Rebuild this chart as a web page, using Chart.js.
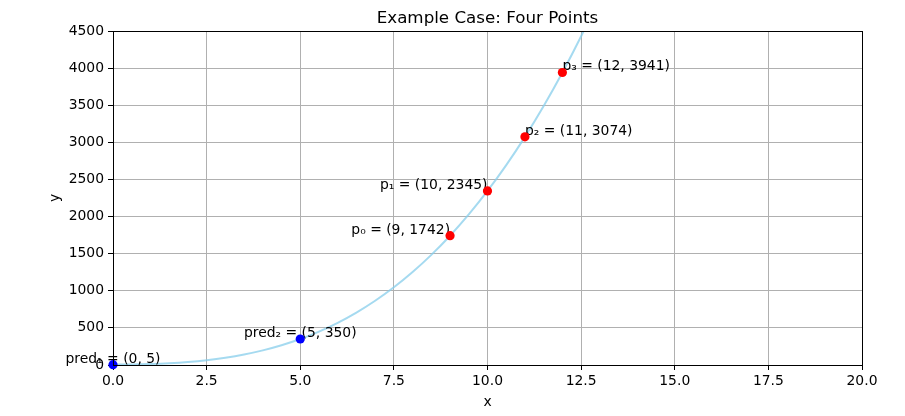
<!DOCTYPE html>
<html><head><meta charset="utf-8">
<script src="https://cdn.jsdelivr.net/npm/chart.js@4/dist/chart.umd.min.js"></script>
<style>html,body{margin:0;padding:0;background:#fff;}#wrap{width:905px;height:416px;}</style>
</head><body><div id="wrap"><canvas id="c" width="905" height="416"></canvas></div>
<script>
const curveX = [0,0.5,1,1.5,2,2.5,3,3.5,4,4.5,5,5.5,6,6.5,7,7.5,8,8.5,9,9.5,10,10.5,11,11.5,12,12.5,13];
const curveY = [5,8,14,24.5,41,65,98,141.5,197,266,350,450.5,569,707,866,1047.5,1253,1484,1742,2028.5,2345,2693,3074,3489.5,3941,4430,4958];
const knownX = [9,10,11,12];
const knownY = [1742,2345,3074,3941];
const knownLabels = ['p₀ = (9, 1742)','p₁ = (10, 2345)','p₂ = (11, 3074)','p₃ = (12, 3941)'];
const knownAlign = ['right','right','left','left'];
const predX = [0,5];
const predY = [5,350];
const predLabels = ['pred₁ = (0, 5)','pred₂ = (5, 350)'];
const predAlign = ['center','center'];
const xTicks = [0,2.5,5,7.5,10,12.5,15,17.5,20];
const yTicks = [0,500,1000,1500,2000,2500,3000,3500,4000,4500];

const FONT = 'DejaVu Sans';
const tickFont = {family: FONT, size: 13.9};

const overlay = {
  id: 'overlay',
  afterDatasetDraw(chart, args) {
    if (args.index !== 0) return;
    const ctx = chart.ctx;
    const xs = chart.scales.x, ys = chart.scales.y;
    ctx.save();
    ctx.fillStyle = '#000';
    ctx.font = '13.9px "' + FONT + '"';
    ctx.textBaseline = 'alphabetic';
    const put = (xa, ya, labels, aligns) => {
      for (let i = 0; i < xa.length; i++) {
        ctx.textAlign = aligns[i];
        ctx.fillText(labels[i], xs.getPixelForValue(xa[i]), ys.getPixelForValue(ya[i]) - 2);
      }
    };
    put(knownX, knownY, knownLabels, knownAlign);
    put(predX, predY, predLabels, predAlign);
    ctx.restore();
  },
  afterDatasetsDraw(chart) {
    const ctx = chart.ctx, a = chart.chartArea;
    ctx.save();
    ctx.fillStyle = '#000';
    ctx.strokeStyle = '#000';
    ctx.lineWidth = 1;
    ctx.strokeRect(Math.round(a.left) + 0.5, Math.round(a.top) + 0.5, Math.round(a.right - a.left), Math.round(a.bottom - a.top));
    ctx.textAlign = 'center';
    ctx.textBaseline = 'alphabetic';
    ctx.font = '16.7px "' + FONT + '"';
    ctx.fillText('Example Case: Four Points', (a.left + a.right) / 2, a.top - 8);
    ctx.font = '13.9px "' + FONT + '"';
    ctx.fillText('x', (a.left + a.right) / 2, 406);
    ctx.save();
    ctx.translate(59, (a.top + a.bottom) / 2);
    ctx.rotate(-Math.PI / 2);
    ctx.fillText('y', 0, 0);
    ctx.restore();
    ctx.restore();
  }
};

const mkTicks = (vals) => (axis) => { axis.ticks = vals.map(v => ({value: v})); };

new Chart(document.getElementById('c'), {
  type: 'scatter',
  data: {
    datasets: [
      {
        type: 'line',
        data: curveX.map((x, i) => ({x: x, y: curveY[i]})),
        borderColor: 'rgba(135,206,235,0.75)',
        borderWidth: 2,
        pointRadius: 0,
        fill: false,
        cubicInterpolationMode: 'monotone',
        order: 2
      },
      {
        data: knownX.map((x, i) => ({x: x, y: knownY[i]})),
        backgroundColor: '#ff0000',
        borderColor: '#ff0000',
        pointRadius: 4.6,
        borderWidth: 0,
        order: 1,
        clip: false
      },
      {
        data: predX.map((x, i) => ({x: x, y: predY[i]})),
        backgroundColor: '#0000ff',
        borderColor: '#0000ff',
        pointRadius: 4.6,
        borderWidth: 0,
        order: 1,
        clip: false
      }
    ]
  },
  options: {
    responsive: false,
    animation: false,
    devicePixelRatio: 1,
    layout: {padding: {left: 0, right: 43, top: 31, bottom: 0}},
    plugins: {legend: {display: false}, tooltip: {enabled: false}, title: {display: false}},
    scales: {
      x: {
        type: 'linear', min: 0, max: 20,
        afterBuildTicks: mkTicks(xTicks),
        afterFit(s) { s.height = 51; },
        grid: {color: '#b0b0b0', lineWidth: 1, tickColor: '#000', tickLength: 5, drawTicks: true},
        border: {display: false},
        ticks: {color: '#000', font: tickFont, padding: 3, maxRotation: 0,
          callback: v => v.toFixed(1)}
      },
      y: {
        type: 'linear', min: 0, max: 4500,
        afterBuildTicks: mkTicks(yTicks),
        afterFit(s) { s.width = 113; },
        grid: {color: '#b0b0b0', lineWidth: 1, tickColor: '#000', tickLength: 5, drawTicks: true},
        border: {display: false},
        ticks: {color: '#000', font: tickFont, padding: 4, callback: v => String(v)}
      }
    }
  },
  plugins: [overlay]
});
</script>
</body></html>
